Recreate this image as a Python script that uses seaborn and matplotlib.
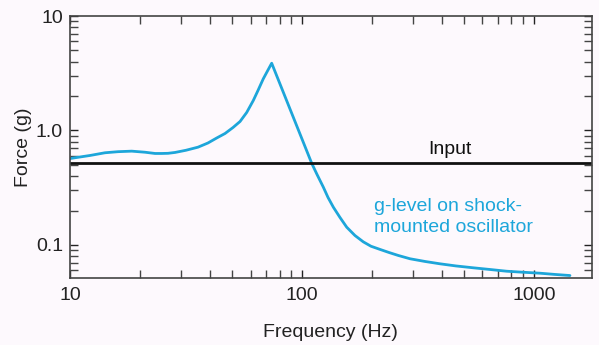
import matplotlib
matplotlib.use("Agg")
import matplotlib.pyplot as plt
import matplotlib.ticker as mticker
import seaborn as sns
import pandas as pd

freq_hz = [10, 11.04, 12.19, 14.15, 16.10, 18.45, 21.05, 23.25, 24.85, 26.45,
           28.36, 31.62, 35.62, 39.33, 42.89, 46.57, 50.43, 54.06, 57.75, 61.67,
           64.61, 68.10, 71.0, 74.03, 110.1, 116.1, 123.6, 129.5, 136.5, 145.8,
           155.9, 169.2, 183.8, 198.4, 216.9, 237.1, 260.1, 292.2, 339.0, 393.3,
           461.2, 547.6, 646.1, 762.6, 896.8, 1061.4, 1231.7, 1429.7]
force_g = [0.569, 0.587, 0.605, 0.639, 0.653, 0.660, 0.646, 0.630, 0.630, 0.632,
           0.643, 0.672, 0.715, 0.778, 0.860, 0.941, 1.062, 1.198, 1.436, 1.828,
           2.236, 2.828, 3.31, 3.87, 0.518, 0.413, 0.320, 0.260, 0.214, 0.174,
           0.143, 0.121, 0.1065, 0.0975, 0.0915, 0.0860, 0.0810, 0.0758, 0.0718,
           0.0685, 0.0656, 0.0632, 0.0611, 0.0590, 0.0578, 0.0567, 0.0553, 0.0541]
input_level = 0.52

x_ticks = [10, 100, 1000]
x_ticklabels = ["10", "100", "1000"]
y_ticks = [0.1, 1.0, 10]
y_ticklabels = ["0.1", "1.0", "10"]

input_label = "Input"
curve_label = ["g-level on shock-", "mounted oscillator"]

sns.set_theme(style="ticks")
plt.rcParams["font.family"] = ["Liberation Sans", "DejaVu Sans"]

bg = "#FDF9FD"
blue = "#1DA6DA"
fs = 14
fig = plt.figure(figsize=(5.99, 3.45), dpi=100, facecolor=bg)
ax = fig.add_axes([0.1169, 0.1951, 0.8709, 0.7585])
ax.set_facecolor(bg)

df = pd.DataFrame({"f": freq_hz, "g": force_g})
sns.lineplot(data=df, x="f", y="g", ax=ax, color=blue, linewidth=2, sort=False,
             solid_joinstyle="round", solid_capstyle="round")
ax.axhline(input_level, color="#111111", linewidth=2)

ax.set_xscale("log")
ax.set_yscale("log")
ax.set_xlim(10, 1774)
ax.set_ylim(0.0518, 10)

ax.xaxis.set_major_locator(mticker.FixedLocator(x_ticks))
ax.xaxis.set_major_formatter(mticker.FixedFormatter(x_ticklabels))
ax.yaxis.set_major_locator(mticker.FixedLocator(y_ticks))
ax.yaxis.set_major_formatter(mticker.FixedFormatter(y_ticklabels))
ax.xaxis.set_minor_locator(mticker.LogLocator(base=10, subs=range(2, 10)))
ax.yaxis.set_minor_locator(mticker.LogLocator(base=10, subs=range(2, 10)))
ax.xaxis.set_minor_formatter(mticker.NullFormatter())
ax.yaxis.set_minor_formatter(mticker.NullFormatter())

ax.tick_params(which="both", direction="in", top=True, right=True,
               color="#444444", width=1)
ax.tick_params(which="major", length=6, labelsize=fs, colors="#222222")
ax.tick_params(axis="x", which="major", pad=7)
ax.tick_params(axis="y", which="major", pad=5)
ax.tick_params(which="minor", length=6)
for s in ax.spines.values():
    s.set_color("#444444")
    s.set_linewidth(1.2)

ax.set_xlabel("Frequency (Hz)", fontsize=fs, color="#222222", labelpad=14)
ax.set_ylabel("Force (g)", fontsize=fs, color="#222222", labelpad=3)

ax.text(435, 0.625, input_label, fontsize=fs, color="#111111", ha="center",
        va="baseline")
ax.text(204, 0.197, curve_label[0], fontsize=fs, color=blue, ha="left",
        va="baseline")
ax.text(204, 0.131, curve_label[1], fontsize=fs, color=blue, ha="left",
        va="baseline")

fig.savefig("out.png", dpi=100, facecolor=bg)
